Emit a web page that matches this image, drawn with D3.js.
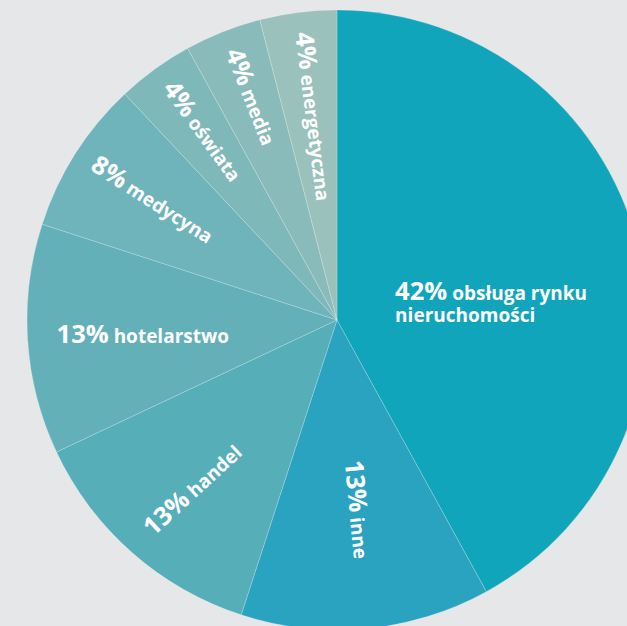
<!DOCTYPE html>
<html>
<head>
<meta charset="utf-8">
<script src="https://cdn.jsdelivr.net/npm/d3@7"></script>
<style>
  html, body { margin: 0; padding: 0; background: #e6e7e9; }
  svg { display: block; }
  text { font-family: "Open Sans", "Noto Sans", sans-serif; font-weight: 700; fill: #fff; }
</style>
</head>
<body>
<div id="chart"></div>
<script>
// slices, clockwise from 12 o'clock
var names = ["obsługa rynku", "inne", "handel", "hotelarstwo", "medycyna", "oświata", "media", "energetyczna"];
var shares = [42, 13, 13, 12, 8, 4, 4, 4];
var shareLabels = ["42%", "13%", "13%", "13%", "8%", "4%", "4%", "4%"];
var colors = ["#10a5ba", "#2aa3c1", "#56aeb8", "#63b0b9", "#6fb4ba", "#7fb8b9", "#8abbbb", "#9bc1bd"];

var width = 627, height = 626,
    cx = 337, cy = 320,
    radius = 310;

var svg = d3.select("#chart").append("svg")
    .attr("width", width)
    .attr("height", height);

var g = svg.append("g").attr("transform", "translate(" + cx + "," + cy + ")");

var pie = d3.pie().sort(null).value(function(d) { return d; });
var arcs = pie(shares);

var arc = d3.arc().innerRadius(0).outerRadius(radius);

g.selectAll("path.slice")
    .data(arcs)
    .enter().append("path")
    .attr("class", "slice")
    .attr("d", arc)
    .attr("fill", function(d, i) { return colors[i]; })
    .attr("stroke", "rgba(255,255,255,0.3)")
    .attr("stroke-width", 0.7);

function midAngle(d) { return (d.startAngle + d.endAngle) / 2; }
function deg(r) { return r * 180 / Math.PI; }

// small slices: text runs along the radius, from the rim toward the centre
var labels = g.selectAll("g.label")
    .data(arcs)
    .enter().append("g")
    .attr("class", "label")
    .attr("transform", function(d, i) {
      var a = midAngle(d);
      if (i == 0) {
        // big slice: horizontal, two lines
        var p = [Math.sin(a) * 60, -Math.cos(a) * 60];
        return "translate(" + p[0] + "," + (p[1] - 5) + ")";
      }
      var rot = deg(Math.atan2(Math.cos(a), -Math.sin(a)));
      var r0 = 290;
      if (Math.abs(rot) > 90) {
        // would be upside down: read outward from inside instead
        rot = rot + 180;
        r0 = 141;
      }
      if (Math.abs(rot) < 5) rot = 0;
      if (i == 2) { rot += 6; r0 = 284; }
      if (i == 3) r0 = 281;
      var x = Math.sin(a) * r0, y = -Math.cos(a) * r0;
      return "translate(" + x + "," + y + ") rotate(" + rot + ")";
    });

labels.each(function(d, i) {
  var t = d3.select(this).append("text")
      .attr("dy", i == 0 ? 0 : "0.35em");
  t.append("tspan").style("font-size", "25.5px").text(shareLabels[i]);
  t.append("tspan").style("font-size", "19px").text(" " + names[i]);
  if (i == 0) {
    t.append("tspan")
        .attr("x", 0)
        .attr("dy", 22)
        .style("font-size", "19px")
        .text("nieruchomości");
  }
});
</script>
</body>
</html>
